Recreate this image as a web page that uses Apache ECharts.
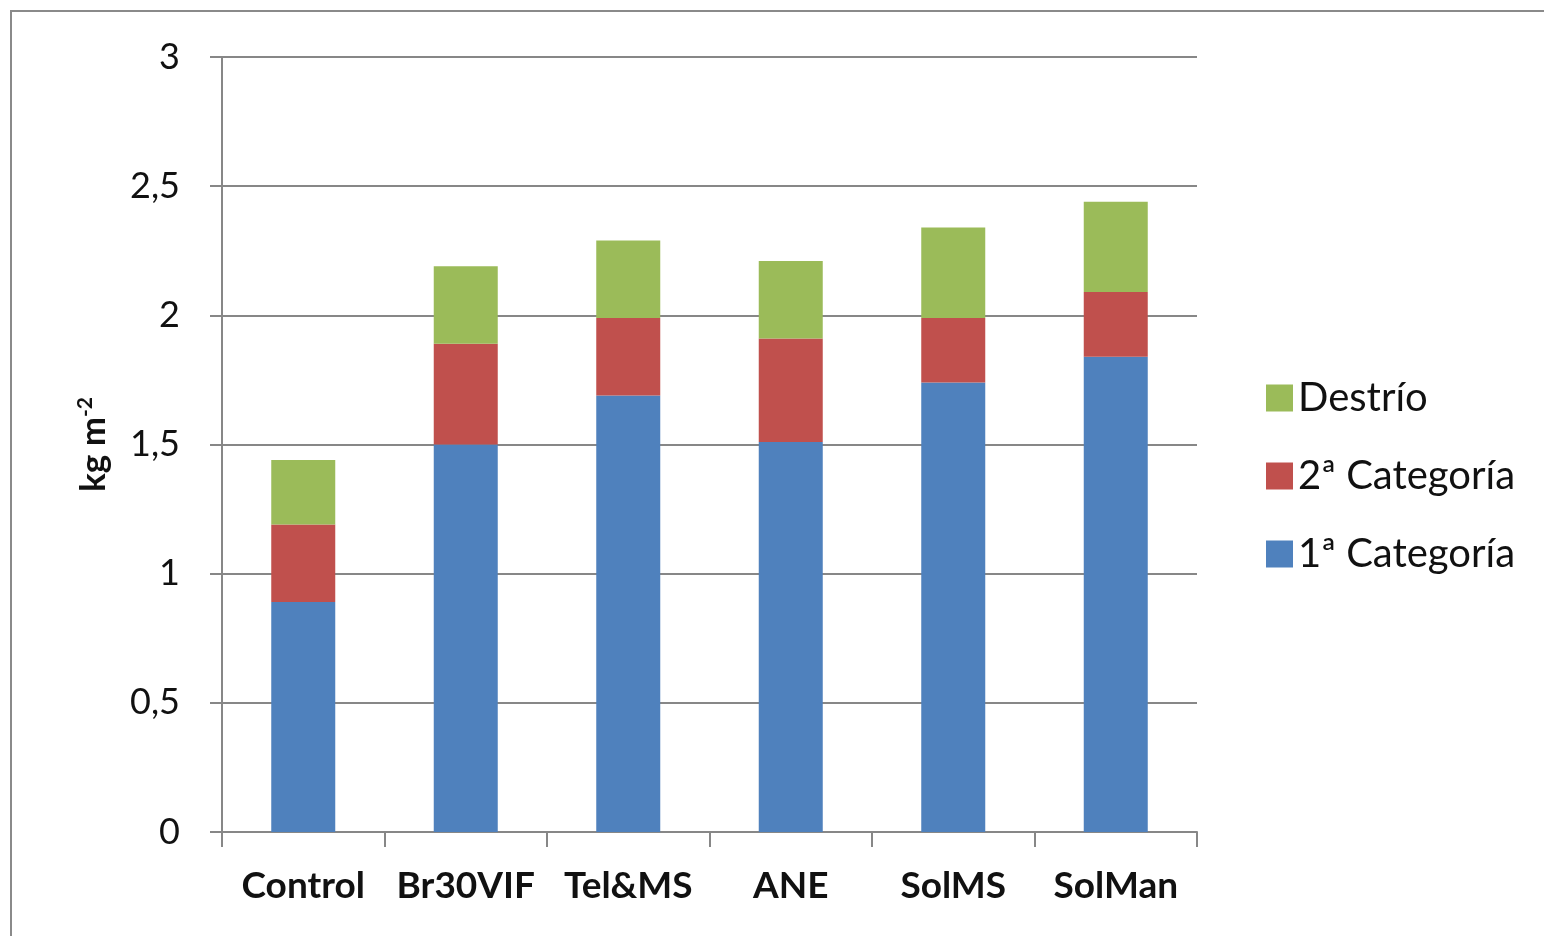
<!DOCTYPE html>
<html>
<head>
<meta charset="utf-8">
<script src="https://cdn.jsdelivr.net/npm/echarts@6/dist/echarts.min.js"></script>
<style>
  html, body { margin: 0; padding: 0; background: #fff; }
  #chart { width: 1544px; height: 936px; }
</style>
</head>
<body>
<div id="chart"></div>
<script>
// Treatments along the x axis
const categories = ['Control', 'Br30VIF', 'Tel&MS', 'ANE', 'SolMS', 'SolMan'];
// Yield per quality class (kg m-2), stacked bottom to top
const primera = [0.89, 1.50, 1.69, 1.51, 1.74, 1.84];
const segunda = [0.30, 0.39, 0.30, 0.40, 0.25, 0.25];
const destrio = [0.25, 0.30, 0.30, 0.30, 0.35, 0.35];
// Value-axis ticks
const yTicks = [0, 0.5, 1, 1.5, 2, 2.5, 3];

const FONT = 'Lato';
const AXIS_GREY = '#878787';

const chart = echarts.init(document.getElementById('chart'), null, { renderer: 'canvas' });

const barCommon = {
  type: 'bar',
  stack: 'total',
  barWidth: 64
};

chart.setOption({
  animation: false,
  backgroundColor: '#ffffff',
  textStyle: { fontFamily: FONT },
  graphic: [{
    type: 'rect',
    shape: { x: 11, y: 11, width: 1600, height: 1000 },
    style: { fill: 'none', stroke: '#8a8a8a', lineWidth: 2 },
    silent: true
  }],
  grid: { left: 222, right: 347, top: 57, bottom: 104 },
  legend: {
    orient: 'vertical',
    left: 1266,
    top: 378,
    padding: 0,
    itemWidth: 27,
    itemHeight: 27,
    itemGap: 38,
    itemTextGap: 6,
    data: ['Destrío', '2ª Categoría', '1ª Categoría'],
    icon: 'rect',
    textStyle: { fontFamily: FONT, fontSize: 40, color: '#111' }
  },
  xAxis: {
    type: 'category',
    data: categories,
    axisLine: { lineStyle: { color: AXIS_GREY, width: 2 } },
    axisTick: { show: true, interval: 0, length: 15, lineStyle: { color: AXIS_GREY, width: 2 } },
    axisLabel: {
      interval: 0, hideOverlap: false,
      fontFamily: FONT, fontSize: 37, color: '#111', margin: 36, fontWeight: 'bold'
    },
    splitLine: { show: false }
  },
  yAxis: {
    type: 'value',
    min: yTicks[0],
    max: yTicks[yTicks.length - 1],
    interval: 0.5,
    name: '{n|kg m}{s|-2}',
    nameLocation: 'middle',
    nameGap: 110,
    nameRotate: 90,
    nameTextStyle: {
      rich: {
        n: { fontFamily: FONT, fontSize: 35, fontWeight: 'bold', color: '#111' },
        s: { fontFamily: FONT, fontSize: 21, fontWeight: 'bold', color: '#111', verticalAlign: 'top', padding: [0, 0, 16, 0] }
      }
    },
    axisLine: { show: true, lineStyle: { color: AXIS_GREY, width: 2 } },
    axisTick: { show: true, length: 12, lineStyle: { color: AXIS_GREY, width: 2 } },
    axisLabel: {
      fontFamily: FONT, fontSize: 36, color: '#111', margin: 42,
      formatter: v => String(v).replace('.', ',')
    },
    splitLine: { show: true, lineStyle: { color: AXIS_GREY, width: 2 } }
  },
  series: [
    Object.assign({}, barCommon, { name: '1ª Categoría', data: primera, itemStyle: { color: '#4F81BD' } }),
    Object.assign({}, barCommon, { name: '2ª Categoría', data: segunda, itemStyle: { color: '#C0504D' } }),
    Object.assign({}, barCommon, { name: 'Destrío', data: destrio, itemStyle: { color: '#9BBB59' } })
  ]
});
</script>
</body>
</html>
